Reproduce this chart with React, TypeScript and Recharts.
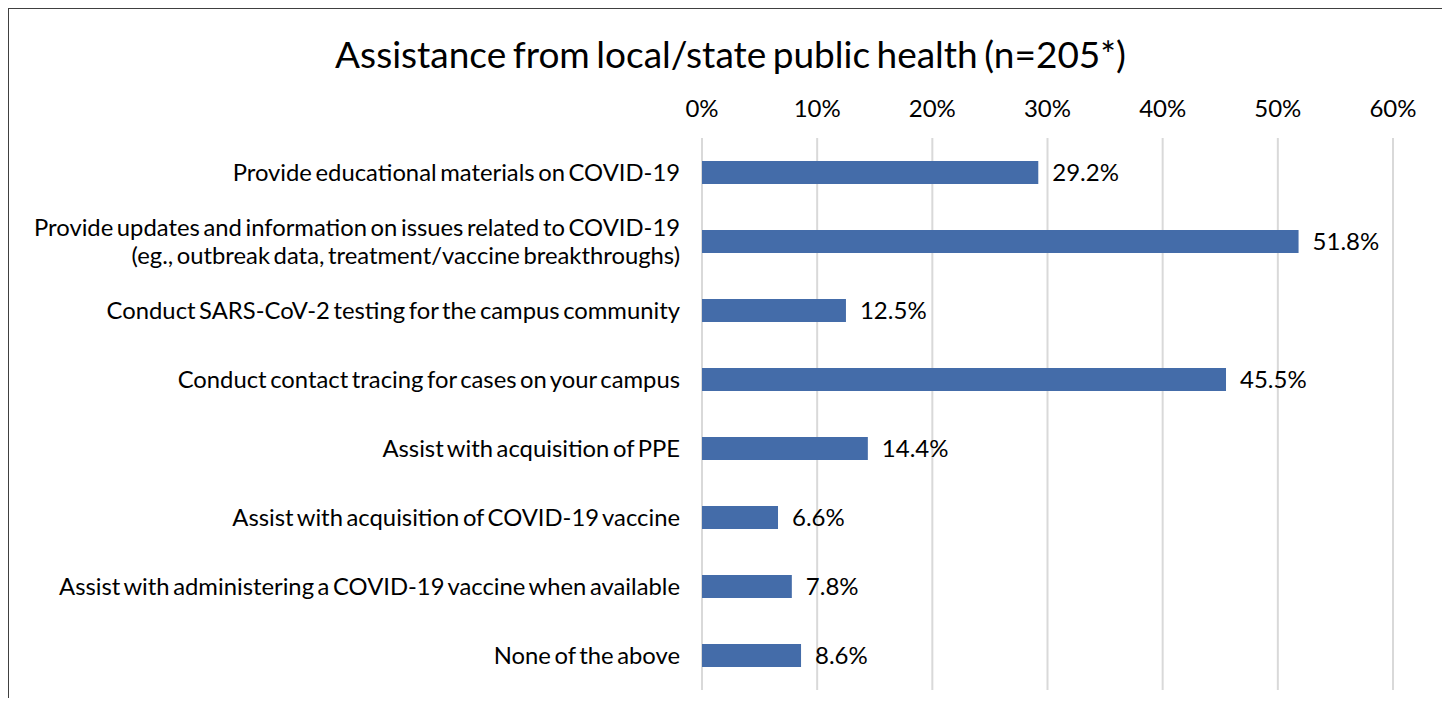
import { BarChart, Bar, XAxis, YAxis, CartesianGrid, LabelList } from "recharts";

const categories = [
  "Provide educational materials on COVID-19",
  "Provide updates and information on issues related to COVID-19\n(eg., outbreak data, treatment/vaccine breakthroughs)",
  "Conduct SARS-CoV-2 testing for the campus community",
  "Conduct contact tracing for cases on your campus",
  "Assist with acquisition of PPE",
  "Assist with acquisition of COVID-19 vaccine",
  "Assist with administering a COVID-19 vaccine when available",
  "None of the above",
];

const values = [29.2, 51.8, 12.5, 45.5, 14.4, 6.6, 7.8, 8.6];

const xTicks = [0, 10, 20, 30, 40, 50, 60];

const data = categories.map((name, i) => ({ name, value: values[i] }));

const FONT = "Lato, 'Open Sans', sans-serif";

const CategoryTick = ({ x, y, payload }: any) => {
  const lines = String(payload.value).split("\n");
  const lh = 28;
  const start = -((lines.length - 1) * lh) / 2;
  return (
    <text
      x={x}
      y={y}
      textAnchor="end"
      fontSize={23.8}
      fontFamily={FONT}
      fill="#000"
      style={{ wordSpacing: -2.5 }}
    >
      {lines.map((l, i) => (
        <tspan key={i} x={x} y={y + start + i * lh} dy="0.35em">
          {l}
        </tspan>
      ))}
    </text>
  );
};

export default function App() {
  return (
    <div
      style={{
        position: "relative",
        width: 1434,
        height: 689,
        borderTop: "1px solid #404040",
        borderLeft: "1px solid #404040",
        borderRight: "1px solid #404040",
        background: "#fff",
        fontFamily: FONT,
      }}
    >
      <div
        style={{
          position: "absolute",
          top: 26,
          left: 0,
          width: 1434,
          paddingLeft: 9,
          boxSizing: "border-box",
          textAlign: "center",
          fontSize: 37,
          lineHeight: "37px",
          wordSpacing: -3,
          color: "#000",
          whiteSpace: "nowrap",
        }}
      >
        Assistance from local/state public health (n=205*)
      </div>
      <BarChart
        width={1434}
        height={689}
        data={data}
        layout="vertical"
        margin={{ top: 89, right: 50, left: 0, bottom: 8 }}
        barSize={23}
      >
        <CartesianGrid horizontal={false} stroke="#d9d9d9" strokeWidth={2} />
        <XAxis
          type="number"
          orientation="top"
          domain={[0, 60]}
          ticks={xTicks}
          tickFormatter={(v) => `${v}%`}
          axisLine={false}
          tickLine={false}
          tickSize={0}
          tickMargin={21}
          height={40}
          interval={0}
          tick={{ fontSize: 24, fill: "#000", fontFamily: FONT }}
        />
        <YAxis
          type="category"
          dataKey="name"
          width={693}
          axisLine={false}
          tickLine={false}
          tickSize={0}
          tickMargin={22}
          interval={0}
          tick={<CategoryTick />}
        />
        <Bar dataKey="value" fill="#446CA9" isAnimationActive={false}>
          <LabelList
            dataKey="value"
            position="right"
            offset={14}
            fontSize={24}
            fill="#000"
            fontFamily={FONT}
            formatter={(v: any) => `${Number(v).toFixed(1)}%`}
          />
        </Bar>
      </BarChart>
    </div>
  );
}
